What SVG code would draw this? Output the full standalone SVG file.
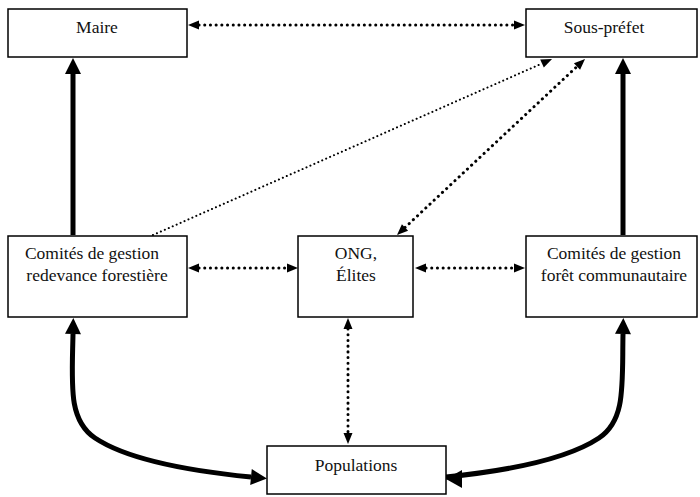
<svg xmlns="http://www.w3.org/2000/svg" width="700" height="497" viewBox="0 0 700 497">
<style>
.box{fill:#fff;stroke:#000;stroke-width:1.5}
.t{font-family:'Liberation Serif','Times New Roman',serif;font-size:17.5px;fill:#111;text-anchor:middle}
.thick{fill:none;stroke:#000;stroke-width:5}
.dot{fill:none;stroke:#000;stroke-width:3;stroke-dasharray:0.1 5.6;stroke-linecap:round}
.thin{fill:none;stroke:#000;stroke-width:2;stroke-dasharray:0.1 4.2;stroke-linecap:round}
</style>
<defs>
<marker id="ah" markerUnits="userSpaceOnUse" markerWidth="16" markerHeight="18" refX="0" refY="9" orient="auto-start-reverse" overflow="visible">
<path d="M0,1 L16,9 L0,17 z" fill="#000"/>
</marker>
<marker id="ad" markerUnits="userSpaceOnUse" markerWidth="11" markerHeight="10" refX="0" refY="5" orient="auto-start-reverse" overflow="visible">
<path d="M0,0.5 L11,5 L0,9.5 z" fill="#000"/>
</marker>
</defs>
<g id="connectors">
<line class="thick" x1="73" y1="235" x2="73" y2="74" marker-end="url(#ah)"/>
<line class="thick" x1="623" y1="235" x2="623" y2="74" marker-end="url(#ah)"/>
<line class="dot" x1="199" y1="25" x2="514" y2="25" marker-start="url(#ad)" marker-end="url(#ad)"/>
<line class="dot" x1="199" y1="268" x2="287" y2="268" marker-start="url(#ad)" marker-end="url(#ad)"/>
<line class="dot" x1="426" y1="268" x2="514" y2="268" marker-start="url(#ad)" marker-end="url(#ad)"/>
<line class="dot" x1="348" y1="329" x2="348" y2="433" marker-start="url(#ad)" marker-end="url(#ad)"/>
<line class="dot" x1="405" y1="227.5" x2="577" y2="66.5" marker-start="url(#ad)" marker-end="url(#ad)"/>
<line class="thin" x1="153" y1="235" x2="542" y2="63.5" marker-end="url(#ad)"/>
<path class="thick" d="M73,334 C72,385 68,420 95,438 C125,458 180,470 251,477" marker-start="url(#ah)" marker-end="url(#ah)"/>
<path class="thick" d="M623,334 C622,385 626,420 599,438 C569,458 515,470 446,477" marker-start="url(#ah)"/>
<path d="M446,479 L462,470 L462,488 z" fill="#000"/>
</g>
<g id="maire"><rect class="box" x="8" y="9" width="179" height="48"/><text class="t" x="97" y="33">Maire</text></g>
<g id="sous-prefet"><rect class="box" x="526" y="9" width="171" height="48"/><text class="t" x="604" y="33">Sous-préfet</text></g>
<g id="comites-redevance"><rect class="box" x="8" y="236" width="179" height="81"/><text class="t" x="92" y="259">Comités de gestion</text><text class="t" x="97" y="281">redevance forestière</text></g>
<g id="ong"><rect class="box" x="298" y="236" width="115" height="81"/><text class="t" x="356" y="259">ONG,</text><text class="t" x="356" y="281">Élites</text></g>
<g id="comites-foret"><rect class="box" x="526" y="236" width="171" height="81"/><text class="t" x="614" y="259">Comités de gestion</text><text class="t" x="614" y="281">forêt communautaire</text></g>
<g id="populations"><rect class="box" x="267" y="446" width="179" height="48"/><text class="t" x="356" y="471">Populations</text></g>
</svg>
